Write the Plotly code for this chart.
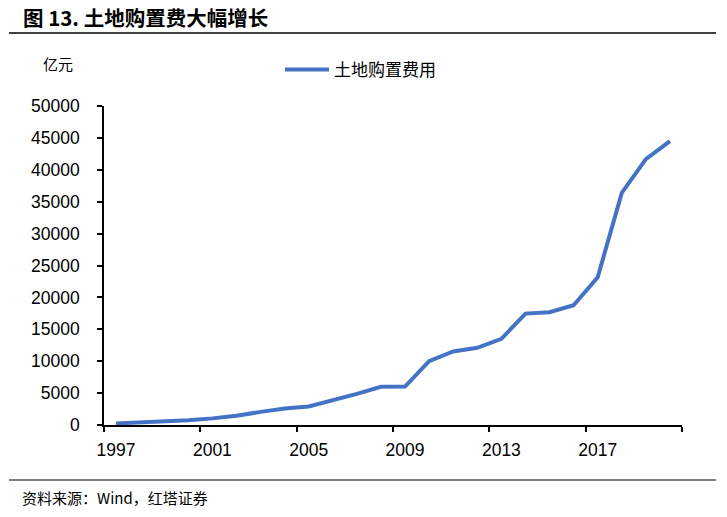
import plotly.graph_objects as go

years = list(range(1997, 2021))
land_cost = [248, 375, 500, 734, 1039, 1446, 2055, 2575, 2904, 3815, 4873, 5996,
             6024, 10000, 11527, 12100, 13502, 17459, 17675, 18779, 23169, 36387,
             41675, 44500]
x_tick_labels = [1997, 2001, 2005, 2009, 2013, 2017]
y_tick_values = list(range(0, 50001, 5000))

series_name = "土地购置费用"
title_text = "<b>图 13. 土地购置费大幅增长</b>"
unit_text = "亿元"
source_text = "资料来源：Wind，红塔证券"

W, H = 727, 517
L, R, T, B = 104, 682, 106, 425

def px(xp):
    return (xp - L) / (R - L)

def py(yp):
    return (B - yp) / (B - T)

fig = go.Figure()
fig.add_trace(go.Scatter(
    x=years, y=land_cost, mode="lines", name=series_name,
    line=dict(color="#4472C4", width=4),
))

num_font = "Liberation Sans, Arial, sans-serif"
cjk_font = "Noto Sans CJK SC, sans-serif"

fig.update_layout(
    width=W, height=H,
    margin=dict(l=L, r=W - R, t=T, b=H - B, pad=0),
    paper_bgcolor="white", plot_bgcolor="white",
    showlegend=True,
    legend=dict(
        orientation="h", x=px(280), xanchor="left", y=py(70), yanchor="middle",
        font=dict(family=cjk_font, size=17, color="#000"),
        bgcolor="rgba(0,0,0,0)", itemwidth=44,
    ),
    xaxis=dict(
        range=[1996.5, 2020.5],
        tickmode="array", tickvals=x_tick_labels,
        ticktext=[str(v) for v in x_tick_labels],
        ticks="", showgrid=False, zeroline=False,
        showline=True, linecolor="#000", linewidth=1.5,
        tickfont=dict(family=num_font, size=17.5, color="#000"),
        ticklabelstandoff=8,
        minor=dict(tickmode="array",
                   tickvals=[y - 0.5 for y in range(1997, 2022, 4)],
                   ticks="outside", ticklen=5, tickwidth=1.5, tickcolor="#000",
                   showgrid=False),
    ),
    yaxis=dict(
        range=[0, 50000], tickmode="array", tickvals=y_tick_values,
        ticktext=[str(v) for v in y_tick_values],
        ticks="outside", ticklen=5, tickwidth=1.5, tickcolor="#000",
        showgrid=False, zeroline=False,
        showline=True, linecolor="#000", linewidth=1.5,
        tickfont=dict(family=num_font, size=17.5, color="#000"),
        ticklabelstandoff=14,
    ),
    annotations=[
        dict(text=title_text, xref="paper", yref="paper", x=px(21), y=py(17),
             xanchor="left", yanchor="middle", showarrow=False,
             font=dict(family=cjk_font, size=20.5, color="#000")),
        dict(text=unit_text, xref="paper", yref="paper", x=px(58), y=py(63),
             xanchor="center", yanchor="middle", showarrow=False,
             font=dict(family=cjk_font, size=15, color="#000")),
        dict(text=source_text, xref="paper", yref="paper", x=px(20), y=py(497),
             xanchor="left", yanchor="middle", showarrow=False,
             font=dict(family=cjk_font, size=15, color="#000")),
    ],
    shapes=[
        dict(type="line", xref="paper", yref="paper", x0=px(9), x1=px(716),
             y0=py(33), y1=py(33), line=dict(color="#000", width=1.5)),
        dict(type="line", xref="paper", yref="paper", x0=px(9), x1=px(716),
             y0=py(480), y1=py(480), line=dict(color="#000", width=1.2)),
    ],
)

fig.write_html("out.html",
               config={"displayModeBar": False},
               post_script="document.body.style.margin='0';document.body.style.overflow='hidden';")
